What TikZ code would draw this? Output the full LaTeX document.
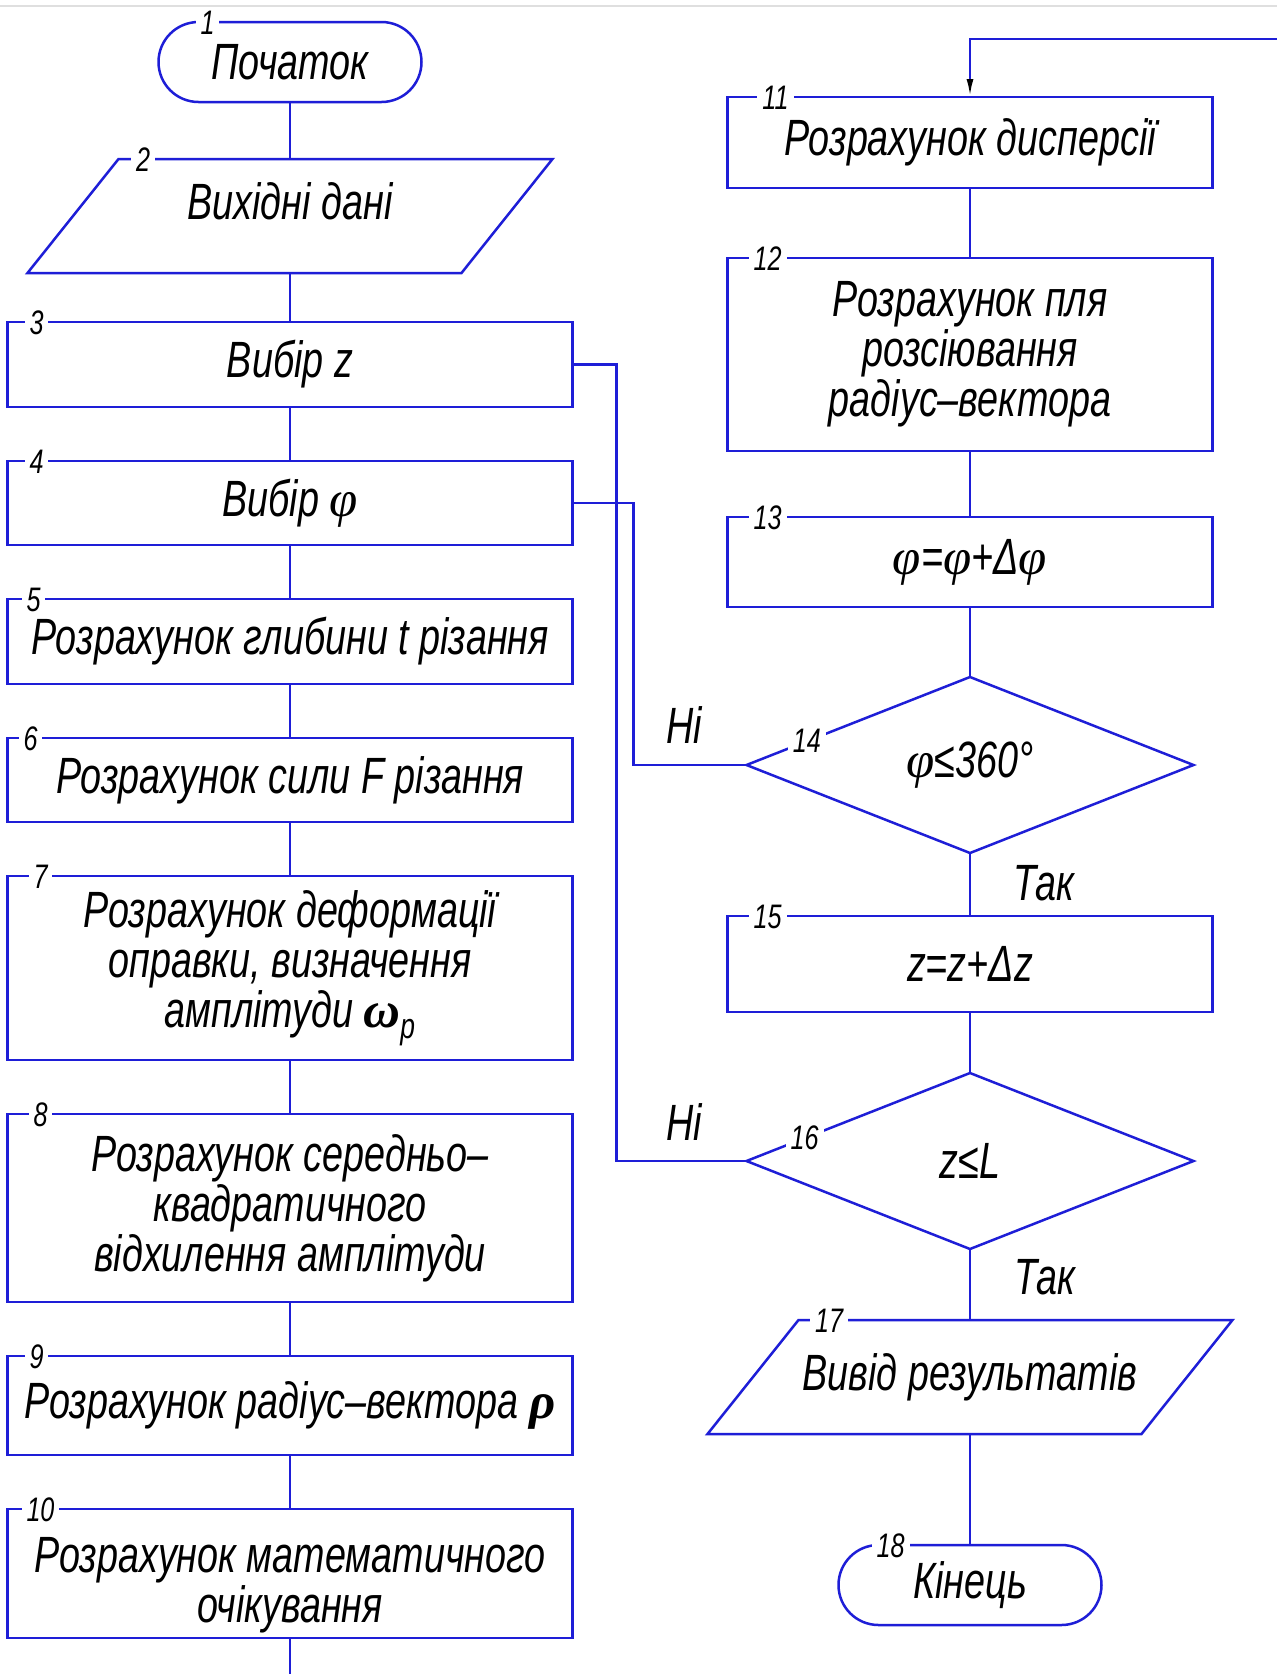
\documentclass[tikz,border=0pt]{standalone}
\usepackage{fontspec}
\usetikzlibrary{positioning,shapes.geometric,arrows.meta,calc}

\newfontfamily\gostfont{Liberation Sans}[FakeStretch=0.74]
\newfontfamily\grkfont{Liberation Serif}
\newcommand{\gost}{\gostfont\itshape\fontsize{51}{50}\selectfont}
\newcommand{\gostnum}{\gostfont\itshape\fontsize{34}{34}\selectfont}
\newcommand{\vphi}{{\grkfont\itshape φ}}
\newcommand{\brho}{{\grkfont\bfseries\itshape ρ}}
\newcommand{\bomega}{{\grkfont\bfseries\itshape ω}}
% outline of a data block around a plain node
\newcommand{\ioframe}[1]{\draw[line] ([xshift=45.5pt]#1.north west) -- ([xshift=45.5pt]#1.north east)
  -- ([xshift=-45.5pt]#1.south east) -- ([xshift=-45.5pt]#1.south west) -- cycle;}
\definecolor{flowblue}{RGB}{30,30,215}

\begin{document}
\begin{tikzpicture}[x=1pt, y=-1pt, node distance=54pt,
  line/.style={draw=flowblue, line width=2.5pt},
  box/.style={rectangle, draw=flowblue, line width=2.5pt, minimum width=565pt, align=center, font=\gost, inner sep=0pt, outer sep=0pt},
  rbox/.style={box, minimum width=485pt},
  term/.style={box, rounded corners=40pt, minimum width=263pt, minimum height=80pt},
  io/.style={rectangle, minimum width=434pt, minimum height=114pt, align=center, font=\gost, inner sep=0pt, outer sep=0pt},
  cond/.style={diamond, aspect=2.5, draw=flowblue, line width=2.5pt, minimum width=447pt, minimum height=176pt, inner sep=0pt, outer sep=0pt, font=\gost},
  num/.style={fill=white, inner xsep=5pt, inner ysep=0pt, font=\gostnum},
  answer/.style={font=\gost}]
  \path[use as bounding box, fill=white] (0,0) rectangle (1277,1674);
  \draw[gray!25, line width=1.5pt] (0,6) -- (1277,6);

  % left column
  \node[term] (t1) at (290,62) {\raisebox{-6pt}{Початок}};
  \node[io] (p2) [below=57pt of t1] {\raisebox{30pt}{Вихідні дані}};
  \node[box, minimum height=85pt] (b3) [below=49pt of p2] {Вибір z};
  \node[box, minimum height=84pt] (b4) [below=of b3] {Вибір \vphi};
  \node[box, minimum height=85pt] (b5) [below=of b4] {Розрахунок глибини t різання};
  \node[box, minimum height=84pt] (b6) [below=of b5] {Розрахунок сили F різання};
  \node[box, minimum height=184pt] (b7) [below=of b6] {Розрахунок деформації\\оправки, визначення\\амплітуди \bomega\textsubscript{p}};
  \node[box, minimum height=188pt] (b8) [below=of b7] {Розрахунок середньо–\\квадратичного\\відхилення амплітуди};
  \node[box, minimum height=99pt] (b9) [below=of b8] {Розрахунок радіус–вектора \brho};
  \node[box, minimum height=129pt] (b10) [below=of b9] {\rule{0pt}{58pt}Розрахунок математичного\\очікування};

  % right column
  \node[rbox, minimum height=91pt] (b11) at (970,142.5) {Розрахунок дисперсії};
  \node[rbox, minimum height=193pt] (b12) [below=70pt of b11] {Розрахунок пля\\розсіювання\\радіус–вектора};
  \node[rbox, minimum height=90pt] (b13) [below=66pt of b12] {\vphi=\vphi+Δ\vphi};
  \node[cond] (d14) [below=70pt of b13] {\vphi≤360°};
  \node[rbox, minimum height=96pt] (b15) [below=63pt of d14] {z=z+Δz};
  \node[cond] (d16) [below=61pt of b15] {z≤L};
  \node[io] (p17) [below=71pt of d16] {Вивід результатів};
  \node[term] (t18) [below=111pt of p17] {\raisebox{-6pt}{Кінець}};

  \ioframe{p2}
  \ioframe{p17}

  % block numbers
  \foreach \b/\dx/\n in {b3/29/3, b4/29/4, b5/26/5, b6/23/6, b7/33/7, b8/33/8, b9/29/9,
    b10/33/10, b11/48/11, b12/40/12, b13/40/13, b15/40/15}
    \node[num] at ([xshift=\dx pt, yshift=-1pt]\b.north west) {\n};
  \node[num] at ([xshift=49pt, yshift=-1pt]t1.north west) {1};
  \node[num] at ([xshift=70pt, yshift=-1pt]p2.north west) {2};
  \node[num] at ([xshift=76pt, yshift=-1pt]p17.north west) {17};
  \node[num] at ([xshift=52pt, yshift=-1pt]t18.north west) {18};
  \node[num] at ($(d14.west)!0.27!(d14.north)$) {14};
  \node[num] at ($(d16.west)!0.26!(d16.north)$) {16};

  % connectors
  \foreach \a/\b in {t1/p2, p2/b3, b3/b4, b4/b5, b5/b6, b6/b7, b7/b8, b8/b9, b9/b10,
    b11/b12, b12/b13, b13/d14, d14/b15, b15/d16, d16/p17, p17/t18}
    \draw[line] (\a.south) -- (\b.north);
  \draw[line] (b3.east) -- ++(44,0) |- (d16.west);
  \draw[line] (b4.east) -- ++(61,0) |- (d14.west);
  \coordinate (ret) at (1277,39);
  \draw[line, -{Latex[length=18pt, width=7pt, color=black]}] (ret) -| (b11.north);
  \coordinate (exit) at (290,1674);
  \draw[line] (b10.south) -- (exit);

  \node[answer] (no14) at ([xshift=-62pt, yshift=40pt]d14.west) {Ні};
  \node[answer] (yes14) at ([xshift=74pt, yshift=-30pt]d14.south) {Так};
  \node[answer] (no16) at ([xshift=-62pt, yshift=39pt]d16.west) {Ні};
  \node[answer] (yes16) at ([xshift=75pt, yshift=-28pt]d16.south) {Так};
\end{tikzpicture}
\end{document}
